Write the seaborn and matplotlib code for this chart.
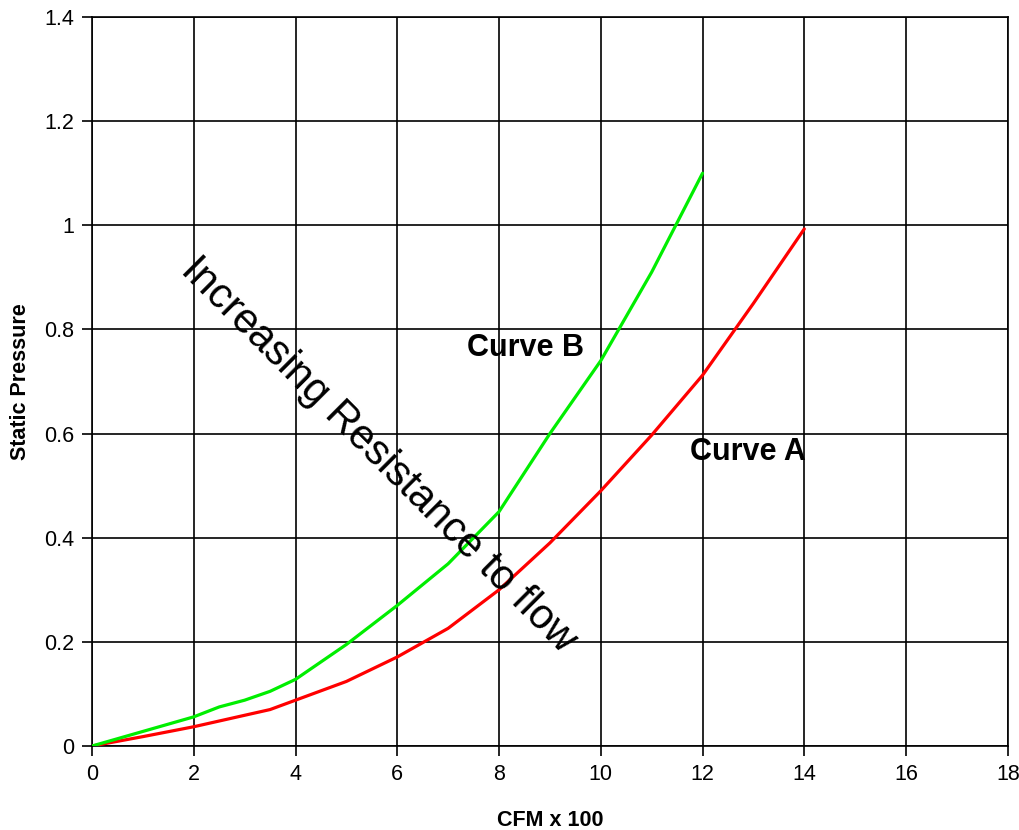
"""Static pressure vs. airflow for two system resistance curves."""

import matplotlib

matplotlib.use("Agg")

import matplotlib.pyplot as plt
import pandas as pd
import seaborn as sns

# Curve A (red) values
curve_a_cfm = [0, 1, 2, 3, 3.5, 4, 5, 6, 7, 8, 9, 10, 11, 12, 13, 14]
curve_a_sp = [0, 0.018, 0.037, 0.059, 0.070, 0.088, 0.124, 0.171, 0.226,
              0.300, 0.390, 0.490, 0.597, 0.712, 0.850, 0.993]

# Curve B (green)
curve_b_cfm = [0, 1, 2, 2.5, 3, 3.5, 4, 5, 6, 7, 8, 9, 10, 11, 12]
curve_b_sp = [0, 0.028, 0.056, 0.075, 0.088, 0.105, 0.128, 0.195, 0.270,
              0.350, 0.450, 0.600, 0.740, 0.910, 1.100]

x_ticks = [0, 2, 4, 6, 8, 10, 12, 14, 16, 18]
y_ticks = [0, 0.2, 0.4, 0.6, 0.8, 1.0, 1.2, 1.4]
y_tick_labels = ["0", "0.2", "0.4", "0.6", "0.8", "1", "1.2", "1.4"]


def main() -> None:
    sns.set_theme(style="white")
    plt.rcParams["font.family"] = ["Liberation Sans", "DejaVu Sans"]
    plt.rcParams["text.color"] = "black"
    plt.rcParams["axes.labelcolor"] = "black"
    plt.rcParams["xtick.color"] = "black"
    plt.rcParams["ytick.color"] = "black"

    df = pd.concat([
        pd.DataFrame({"cfm": curve_a_cfm, "sp": curve_a_sp, "curve": "A"}),
        pd.DataFrame({"cfm": curve_b_cfm, "sp": curve_b_sp, "curve": "B"}),
    ])

    fig = plt.figure(figsize=(10.19, 8.30), dpi=100)
    ax = fig.add_axes([0.0903, 0.1012, 0.8987, 0.8783])

    sns.lineplot(data=df, x="cfm", y="sp", hue="curve",
                 palette={"A": "#ff0000", "B": "#00ee00"},
                 linewidth=2.3, legend=False, ax=ax, zorder=3)

    ax.set_xlim(0, 18)
    ax.set_ylim(0, 1.4)
    ax.set_xticks(x_ticks)
    ax.set_yticks(y_ticks)
    ax.set_yticklabels(y_tick_labels)
    ax.grid(True, color="black", linewidth=1.2)
    ax.set_axisbelow(True)
    for spine in ax.spines.values():
        spine.set_color("black")
        spine.set_linewidth(1.2)
    ax.tick_params(axis="both", direction="out", length=7, width=1.2,
                   color="black", labelsize=15.5, pad=6,
                   bottom=True, left=True)

    ax.set_xlabel("CFM x 100", fontsize=15.5, fontweight="bold", labelpad=18)
    ax.set_ylabel("Static Pressure", fontsize=15.5, fontweight="bold", labelpad=9)

    ax.text(7.37, 0.764, "Curve B", fontsize=22, fontweight="bold",
            ha="left", va="center")
    ax.text(11.75, 0.565, "Curve A", fontsize=22, fontweight="bold",
            ha="left", va="center")
    ax.text(5.62, 0.559, "Increasing Resistance to flow", fontsize=30,
            rotation=-45, ha="center", va="center")

    fig.savefig("out.png", dpi=100)
    plt.close(fig)


if __name__ == "__main__":
    main()
